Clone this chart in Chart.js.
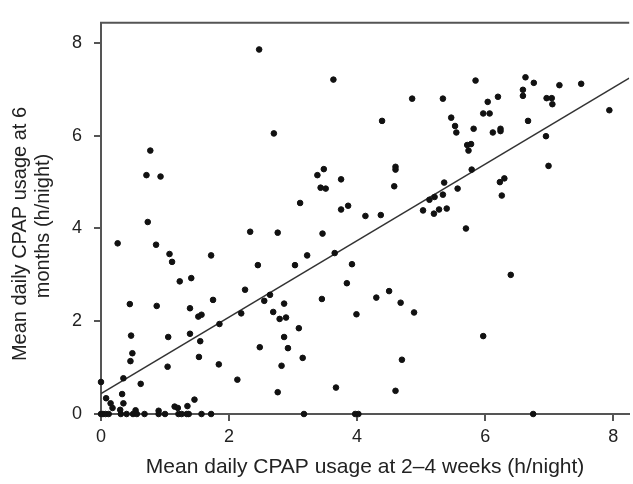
<!DOCTYPE html>
<html>
<head>
<meta charset="utf-8">
<script src="https://cdn.jsdelivr.net/npm/chart.js@4.4.1/dist/chart.umd.min.js"></script>
<style>
  html, body { margin: 0; padding: 0; background: #fff; }
  #wrap { width: 633px; height: 484px; }
</style>
</head>
<body>
<div id="wrap"><canvas id="cpap"></canvas></div>
<script>
// usage at 2-4 weeks (x) vs usage at 6 months (y), h/night
const xVals = [
  2.47, 3.63, 2.70, 0.77, 0.71, 0.93, 3.38, 3.48, 3.75, 3.43, 3.51, 3.11, 3.75, 3.86, 0.73,
  5.85, 6.63, 6.76, 7.16, 7.50, 4.86, 5.34, 6.20, 6.59, 6.59, 6.04, 6.96, 7.04, 7.05, 7.94,
  4.39, 5.47, 5.97, 6.07, 5.53, 5.55, 5.82, 6.12, 6.24, 6.24, 6.67, 5.72, 5.78, 5.74, 6.95,
  4.60, 4.60, 4.58, 5.79, 6.99, 5.36, 5.57, 6.23, 6.30, 6.26, 5.13, 5.21, 5.34, 5.03, 5.20,
  5.28, 5.40, 4.13, 4.37,
  0.26, 0.86, 2.33, 2.76, 3.46, 1.07, 1.11, 1.72, 2.45, 3.03, 3.22, 3.65, 3.92, 3.84, 1.23,
  1.41, 2.25, 2.64, 2.55, 3.45, 0.45, 0.87, 1.75, 2.86, 1.39, 1.52, 1.57, 2.19, 2.69, 2.79,
  2.89, 3.99, 1.85, 3.09, 0.47, 1.05, 1.39, 1.55, 2.86, 2.48, 2.92, 0.49, 0.46, 1.53, 3.15,
  1.04, 1.84, 2.82, 0.35, 2.13, 0.00, 0.62, 3.67, 2.76, 0.33, 0.08, 1.46, 0.15, 0.35, 0.18,
  1.15, 1.20, 1.35, 0.30, 0.54, 0.90,
  5.70, 6.40, 4.50, 4.30, 4.68, 4.89, 5.97, 4.70, 4.60,
  0.00, 0.03, 0.07, 0.12, 0.31, 0.40, 0.50, 0.56, 0.68, 0.90, 1.00, 1.21, 1.26, 1.34, 1.37,
  1.57, 1.72, 3.17, 3.97, 4.02, 6.75
];
const yVals = [
  7.86, 7.21, 6.05, 5.68, 5.15, 5.12, 5.15, 5.28, 5.06, 4.88, 4.86, 4.55, 4.41, 4.49, 4.14,
  7.19, 7.26, 7.14, 7.09, 7.12, 6.80, 6.80, 6.84, 6.99, 6.86, 6.73, 6.81, 6.81, 6.68, 6.55,
  6.32, 6.39, 6.48, 6.48, 6.21, 6.07, 6.15, 6.07, 6.15, 6.10, 6.32, 5.80, 5.82, 5.68, 5.99,
  5.33, 5.27, 4.91, 5.27, 5.35, 4.99, 4.86, 5.00, 5.08, 4.71, 4.62, 4.68, 4.73, 4.39, 4.32,
  4.41, 4.43, 4.27, 4.29,
  3.68, 3.65, 3.93, 3.91, 3.89, 3.45, 3.28, 3.42, 3.21, 3.21, 3.42, 3.47, 3.23, 2.82, 2.86,
  2.93, 2.68, 2.57, 2.44, 2.48, 2.37, 2.33, 2.46, 2.38, 2.28, 2.10, 2.14, 2.17, 2.20, 2.05,
  2.08, 2.15, 1.94, 1.85, 1.69, 1.66, 1.73, 1.57, 1.66, 1.44, 1.42, 1.31, 1.14, 1.23, 1.21,
  1.02, 1.07, 1.04, 0.77, 0.74, 0.69, 0.65, 0.57, 0.47, 0.43, 0.34, 0.31, 0.23, 0.23, 0.13,
  0.16, 0.13, 0.17, 0.09, 0.08, 0.07,
  4.00, 3.00, 2.65, 2.51, 2.40, 2.19, 1.68, 1.17, 0.50,
  0, 0, 0, 0, 0, 0, 0, 0, 0, 0, 0, 0, 0, 0, 0,
  0, 0, 0, 0, 0, 0
];

// fitted line, end points
const fitX = [0, 8.25];
const fitY = [0.44, 7.24];

const xTicks = [0, 2, 4, 6, 8];
const yTicks = [0, 2, 4, 6, 8];

const yTitleLines = ['Mean daily CPAP usage at 6', 'months (h/night)'];

const points = xVals.map((x, i) => ({ x: x, y: yVals[i] }));
const fit = fitX.map((x, i) => ({ x: x, y: fitY[i] }));

const axisColor = '#555';
const textColor = '#222';
const fontFamily = '"Liberation Sans", Arial, Helvetica, sans-serif';

// top frame line + the two-line y title (sits a bit below centre in the original)
const frameAndTitle = {
  id: 'frameAndTitle',
  afterDraw(chart) {
    const a = chart.chartArea;
    const c = chart.ctx;
    c.save();
    c.strokeStyle = axisColor;
    c.lineWidth = 2;
    c.beginPath();
    c.moveTo(a.left - 1, a.top);
    c.lineTo(a.right, a.top);
    c.stroke();

    c.fillStyle = textColor;
    c.font = '20px ' + fontFamily;
    c.textAlign = 'center';
    c.textBaseline = 'middle';
    const spots = [[20, 234], [43, 226]];
    yTitleLines.forEach((t, i) => {
      c.save();
      c.translate(spots[i][0], spots[i][1]);
      c.rotate(-Math.PI / 2);
      c.fillText(t, 0, 0);
      c.restore();
    });
    c.restore();
  }
};

new Chart(document.getElementById('cpap').getContext('2d'), {
  type: 'scatter',
  data: {
    datasets: [
      {
        data: points,
        backgroundColor: '#111',
        borderColor: '#111',
        pointRadius: 2.8,
        pointHoverRadius: 2.8,
        clip: false
      },
      {
        type: 'line',
        data: fit,
        borderColor: '#333',
        borderWidth: 1.5,
        pointRadius: 0,
        fill: false
      }
    ]
  },
  options: {
    responsive: true,
    maintainAspectRatio: false,
    animation: false,
    layout: { padding: { top: 13, right: 0, left: 0, bottom: 0 } },
    plugins: {
      legend: { display: false },
      tooltip: { enabled: false }
    },
    scales: {
      x: {
        type: 'linear',
        min: 0,
        max: 8.25,
        afterBuildTicks: s => { s.ticks = xTicks.map(v => ({ value: v })); },
        afterFit: s => { s.height = 70; },
        ticks: {
          color: textColor,
          padding: 5,
          font: { family: fontFamily, size: 18 }
        },
        grid: {
          drawOnChartArea: false,
          drawTicks: true,
          tickLength: 7,
          color: axisColor,
          lineWidth: 2
        },
        border: { display: true, color: axisColor, width: 2 },
        title: {
          display: true,
          text: 'Mean daily CPAP usage at 2–4 weeks (h/night)',
          color: textColor,
          font: { family: fontFamily, size: 21 },
          padding: { top: 2, bottom: 4 }
        }
      },
      y: {
        type: 'linear',
        min: 0,
        max: 8.435,
        afterBuildTicks: s => { s.ticks = yTicks.map(v => ({ value: v })); },
        afterFit: s => { s.width = 101; },
        ticks: {
          color: textColor,
          padding: 12,
          font: { family: fontFamily, size: 18 }
        },
        grid: {
          drawOnChartArea: false,
          drawTicks: true,
          tickLength: 7,
          color: axisColor,
          lineWidth: 2
        },
        border: { display: true, color: axisColor, width: 2 },
        title: { display: false }
      }
    }
  },
  plugins: [frameAndTitle]
});
</script>
</body>
</html>
